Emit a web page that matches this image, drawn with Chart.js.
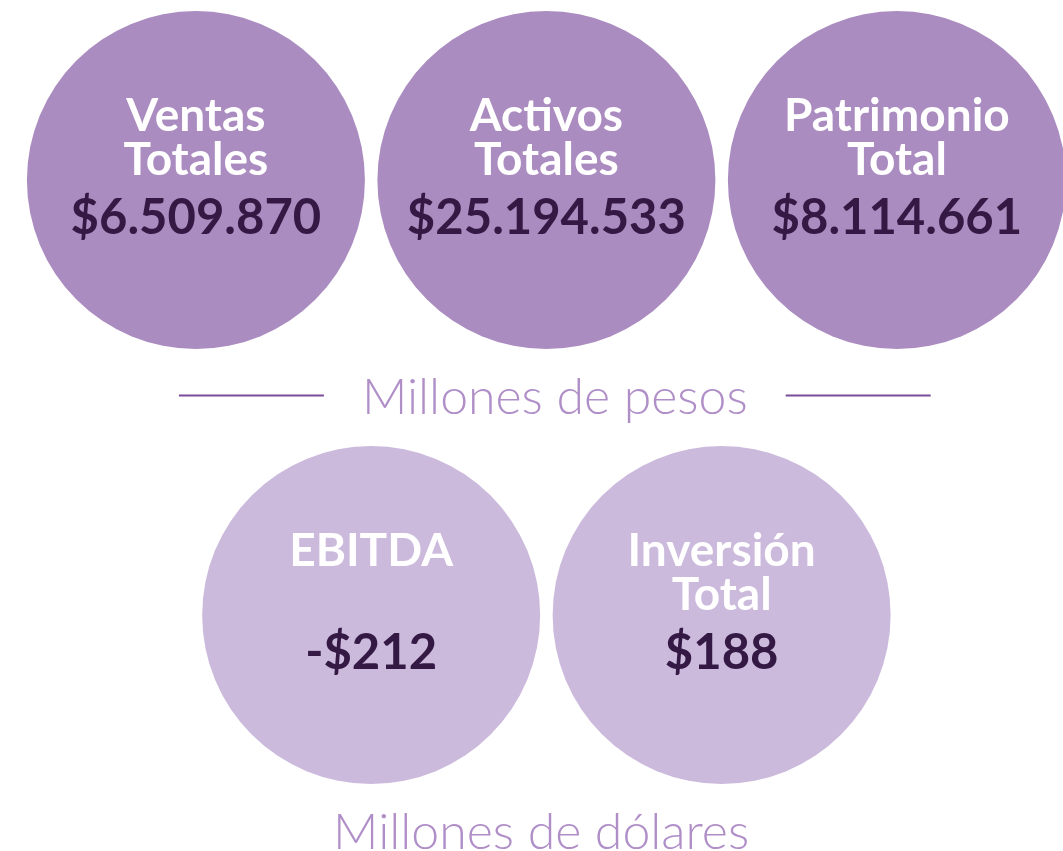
<!DOCTYPE html>
<html>
<head>
<meta charset="utf-8">
<title>Cifras principales</title>
<script src="https://cdn.jsdelivr.net/npm/chart.js@4.4.1/dist/chart.umd.min.js"></script>
<style>
  html, body { margin: 0; padding: 0; background: #fff; }
  #kpiChart { display: block; }
</style>
</head>
<body>
<canvas id="kpiChart" width="1063" height="851"></canvas>
<script>
// top row: millones de pesos
const pesosLabels = [["Ventas", "Totales"], ["Activos", "Totales"], ["Patrimonio", "Total"]];
const pesosValues = [6509870, 25194533, 8114661];
const pesosCols = [0, 1, 2];

// bottom row: millones de dolares
const dolaresLabels = [["EBITDA"], ["Inversión", "Total"]];
const dolaresValues = [-212, 188];
const dolaresCols = [0.5, 1.5];

const unitLabels = ["Millones de pesos", "Millones de dólares"];

function formatMoney(v) {
  const s = Math.abs(v).toString().replace(/\B(?=(\d{3})+(?!\d))/g, ".");
  return (v < 0 ? "-$" : "$") + s;
}

const textPlugin = {
  id: "circleText",
  afterDatasetsDraw(chart) {
    const ctx = chart.ctx;
    const groups = [pesosLabels, dolaresLabels];
    const vals = [pesosValues, dolaresValues];
    ctx.save();
    ctx.textAlign = "center";
    ctx.textBaseline = "alphabetic";
    groups.forEach((labels, d) => {
      const meta = chart.getDatasetMeta(d);
      meta.data.forEach((pt, i) => {
        ctx.fillStyle = "#ffffff";
        ctx.font = "bold 46px Lato";
        labels[i].forEach((line, j) => {
          ctx.fillText(line, pt.x, pt.y - 49 + j * 44);
        });
        ctx.fillStyle = "#331943";
        ctx.font = "bold 49px Lato";
        ctx.fillText(formatMoney(vals[d][i]), pt.x, pt.y + 54);
      });
    });

    // unit captions under each row (slightly off-centre like the original)
    const xs = chart.scales.x, ys = chart.scales.y;
    const captionX = [1.024, 0.985];
    ctx.textBaseline = "middle";
    ctx.font = "300 50px Lato";
    unitLabels.forEach((txt, r) => {
      const cx = xs.getPixelForValue(captionX[r]);
      const cy = ys.getPixelForValue(r + 0.5);
      ctx.fillStyle = "#b08fc8";
      ctx.fillText(txt, cx, cy);
      if (r === 0) {
        const w = ctx.measureText(txt).width;
        ctx.strokeStyle = "#7b4d99";
        ctx.lineWidth = 2;
        ctx.beginPath();
        ctx.moveTo(cx - w / 2 - 183, cy - 2);
        ctx.lineTo(cx - w / 2 - 38, cy - 2);
        ctx.moveTo(cx + w / 2 + 38, cy - 2);
        ctx.lineTo(cx + w / 2 + 183, cy - 2);
        ctx.stroke();
      }
    });
    ctx.restore();
  }
};

new Chart(document.getElementById("kpiChart"), {
  type: "scatter",
  data: {
    datasets: [
      {
        label: "Millones de pesos",
        data: pesosValues.map((v, i) => ({ x: pesosCols[i], y: 0 })),
        backgroundColor: "#ab8cc0",
        borderWidth: 0,
        pointRadius: 169,
        pointHoverRadius: 169,
        clip: false
      },
      {
        label: "Millones de dólares",
        data: dolaresValues.map((v, i) => ({ x: dolaresCols[i], y: 1 })),
        backgroundColor: "#ccbadd",
        borderWidth: 0,
        pointRadius: 169,
        pointHoverRadius: 169,
        clip: false
      }
    ]
  },
  options: {
    responsive: false,
    animation: false,
    events: [],
    layout: { padding: 0, autoPadding: false },
    plugins: { legend: { display: false }, tooltip: { enabled: false } },
    scales: {
      x: { type: "linear", display: false, min: -0.559, max: 2.474 },
      y: { type: "linear", display: false, reverse: true, min: -0.414, max: 1.5425 }
    }
  },
  plugins: [textPlugin]
});
</script>
</body>
</html>
